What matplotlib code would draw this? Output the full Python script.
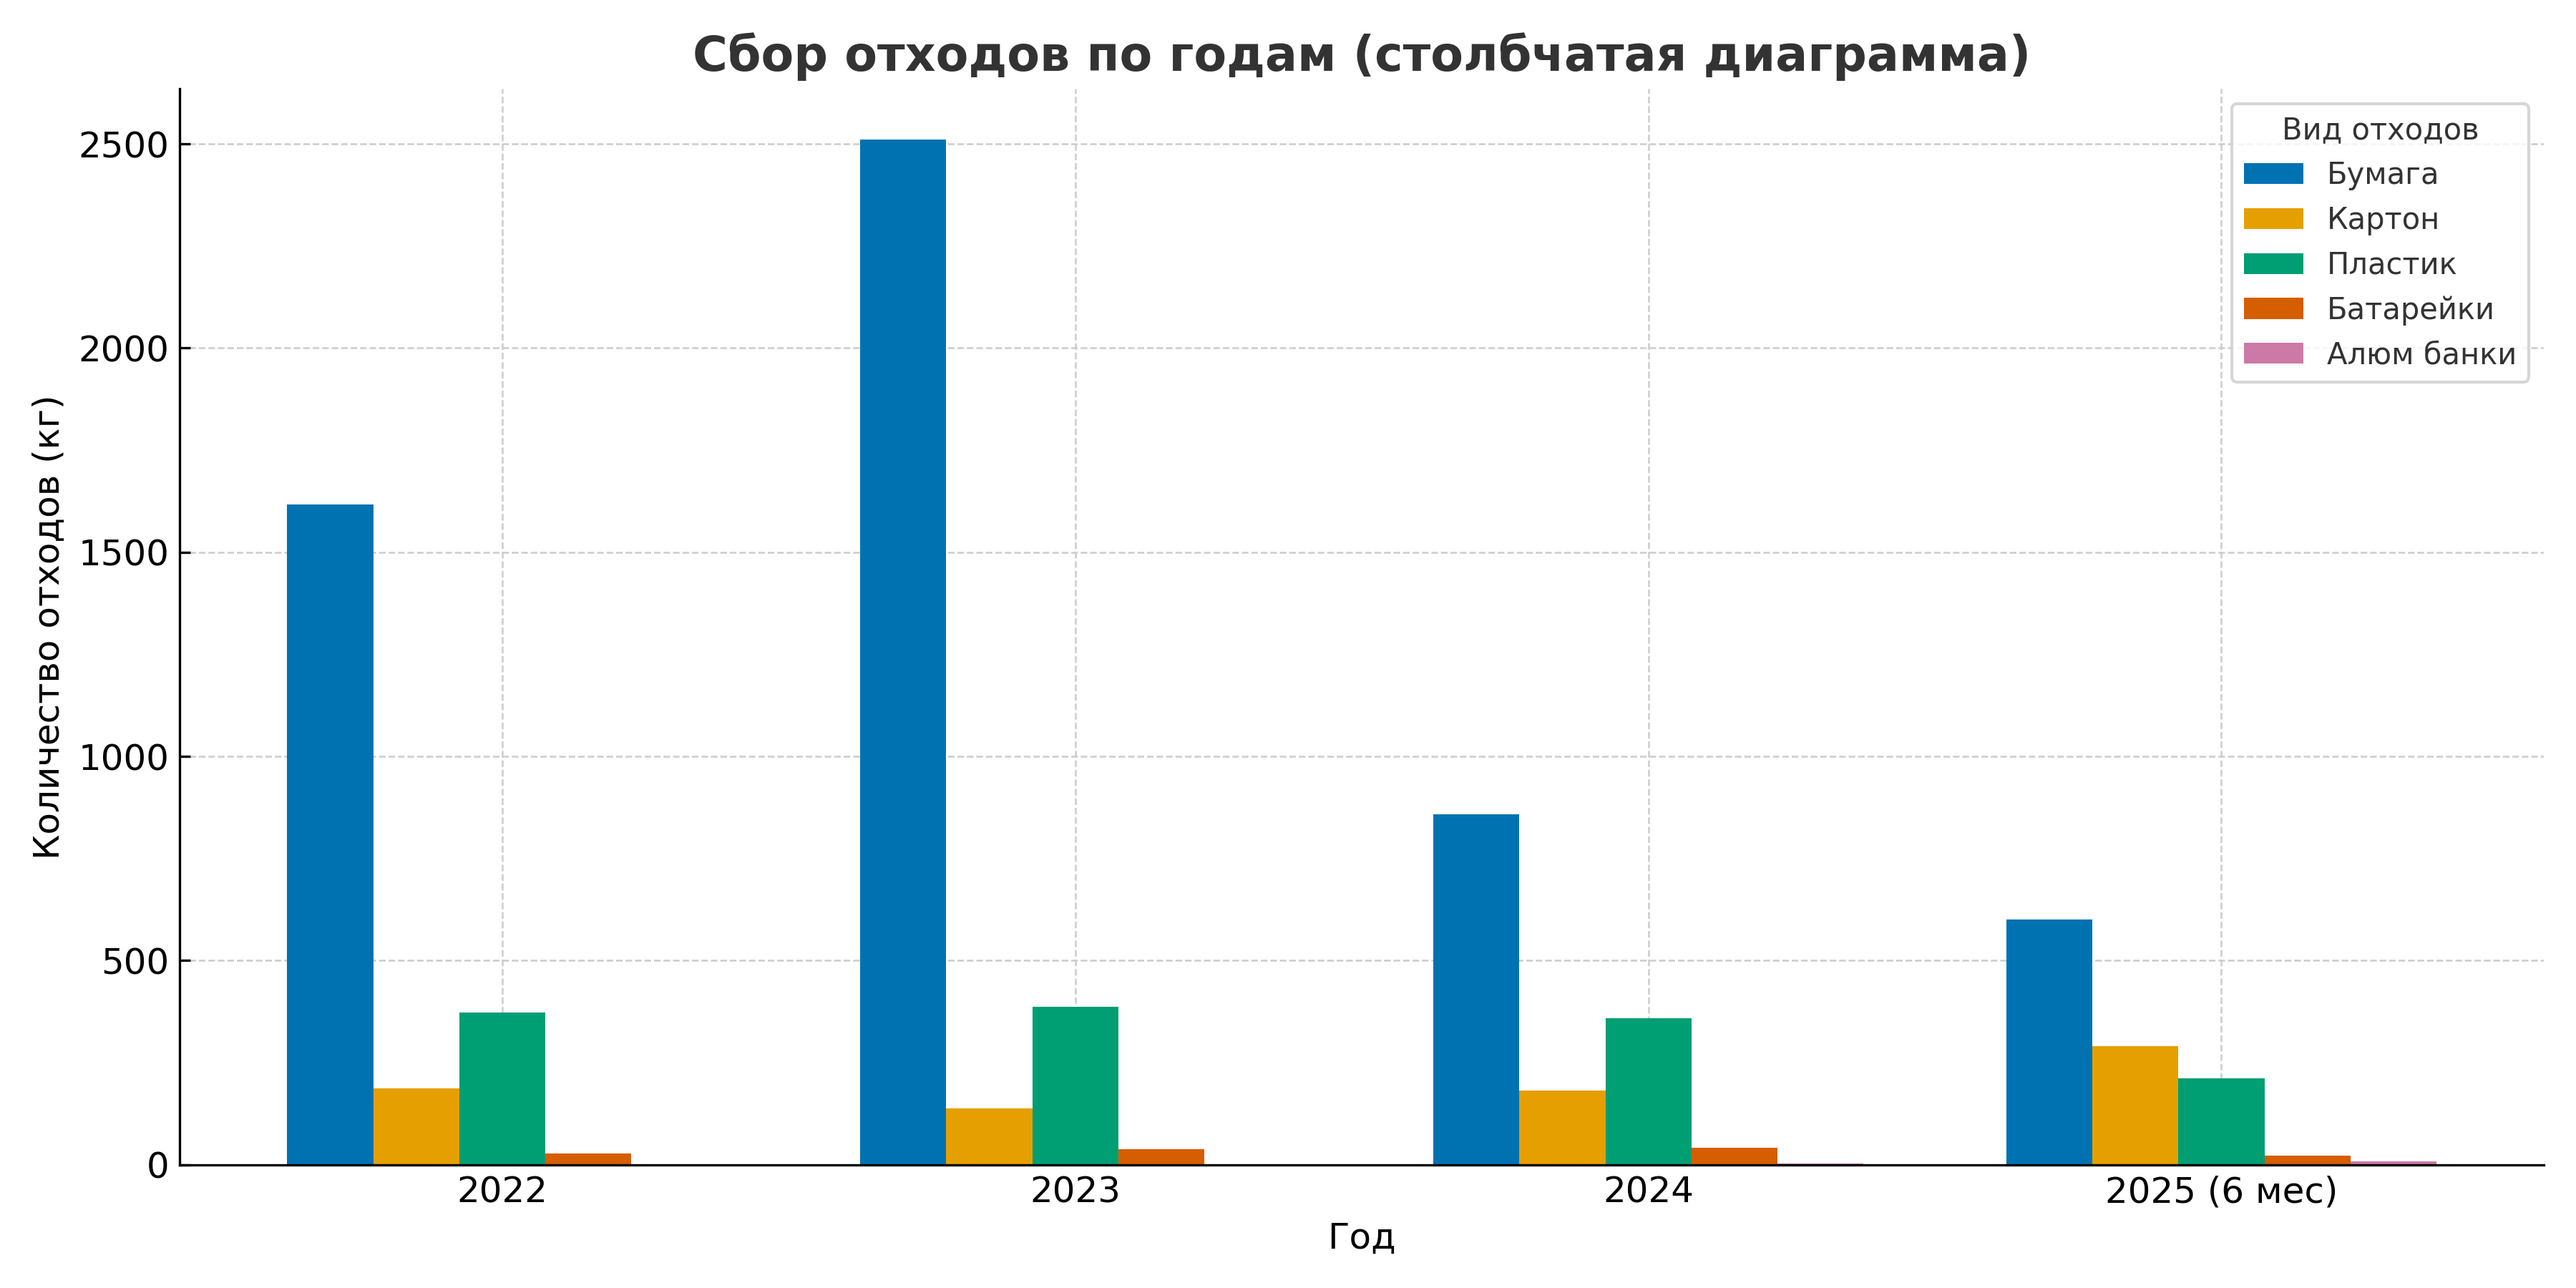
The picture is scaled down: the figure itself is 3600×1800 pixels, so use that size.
import matplotlib
matplotlib.use("Agg")
import matplotlib.pyplot as plt
import numpy as np

years = ['2022', '2023', '2024', '2025 (6 мес)']
types = ['Бумага', 'Картон', 'Пластик', 'Батарейки', 'Алюм банки']
paper = [1617, 2510, 858, 600]
cardboard = [187, 138, 181, 290]
plastic = [372, 387, 358, 211]
batteries = [27, 38, 41, 23]
cans = [0, 0, 3, 8]
colors = ['#0072B2', '#E69F00', '#009E73', '#D55E00', '#CC79A7']

series = [paper, cardboard, plastic, batteries, cans]

fig, ax = plt.subplots(figsize=(12, 6), dpi=300)
x = np.arange(len(years))
w = 0.15
for i, (vals, name) in enumerate(zip(series, types)):
    ax.bar(x + (i - 2) * w, vals, width=w, color=colors[i], label=name)

ax.set_xticks(x)
ax.set_xticklabels(years, fontsize=12)
ax.tick_params(axis='both', direction='in', labelsize=12)
ax.set_title('Сбор отходов по годам (столбчатая диаграмма)', fontsize=16,
             fontweight='bold', color='#333333')
ax.set_xlabel('Год', fontsize=12)
ax.set_ylabel('Количество отходов (кг)', fontsize=12)
ax.grid(True, linestyle='--', linewidth=0.6, color='#cccccc')
ax.set_axisbelow(True)
ax.spines['top'].set_visible(False)
ax.spines['right'].set_visible(False)
leg = ax.legend(title='Вид отходов', fontsize=10, title_fontsize=10, loc='upper right')
for t in leg.get_texts():
    t.set_color('#333333')
leg.get_title().set_color('#333333')

plt.tight_layout()
plt.savefig('out.png', dpi=300)
